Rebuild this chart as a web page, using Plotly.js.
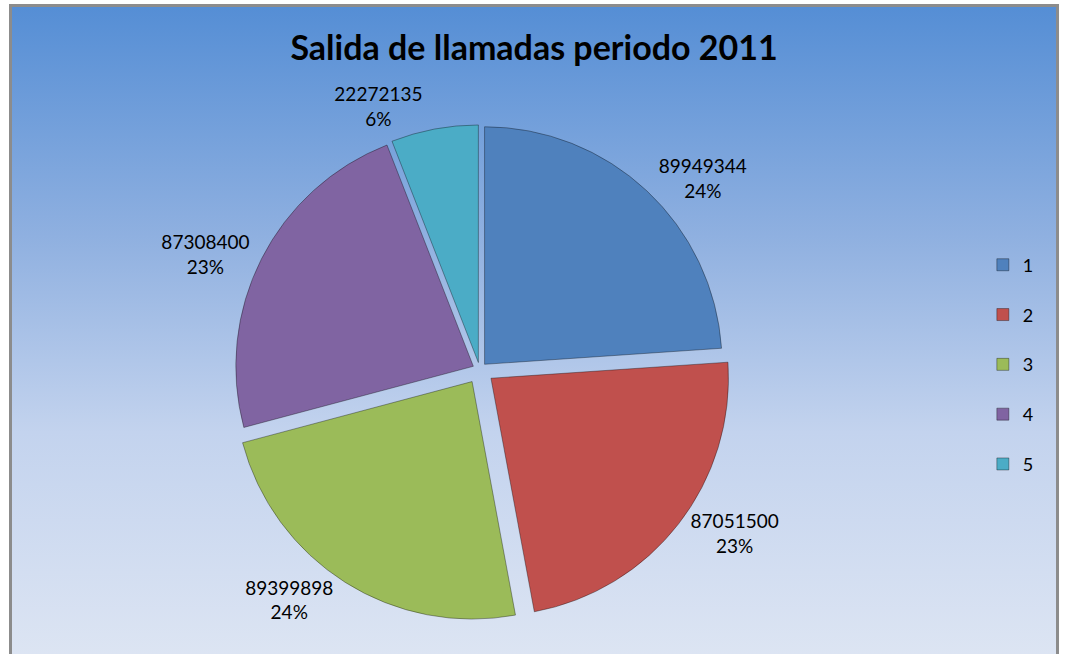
<!DOCTYPE html>
<html>
<head>
<meta charset="utf-8">
<script src="https://cdn.plot.ly/plotly-3.0.1.min.js"></script>
<style>
  html, body { margin: 0; padding: 0; width: 1066px; height: 654px; overflow: hidden; background: #ffffff; }
  #frame {
    position: absolute; left: 9px; top: 4px; width: 1050px; height: 660px;
    border: 3px solid #8c8c8c; box-sizing: border-box;
    background: linear-gradient(to bottom, #558ed5 0%, #8fb0e0 35%, #c3d3ee 65%, #dde5f3 100%);
  }
  #chart { position: absolute; left: 0; top: 0; width: 1066px; height: 654px; }
</style>
</head>
<body>
<div id="frame"></div>
<div id="chart"></div>
<script>
const categories = ["1", "2", "3", "4", "5"];
const values = [89949344, 87051500, 89399898, 87308400, 22272135];
const colors = ["#4f81bd", "#c0504d", "#9bbb59", "#8064a2", "#4bacc6"];
const chartTitle = "Salida de llamadas periodo 2011";

const trace = {
  type: "pie",
  labels: categories.map(c => c + "<br> "),
  values: values,
  sort: false,
  direction: "clockwise",
  rotation: 0,
  pull: [0.03, 0.06, 0.06, 0.03, 0.03],
  marker: { colors: colors, line: { color: "rgba(0,0,0,0.35)", width: 1 } },
  textposition: "outside",
  texttemplate: "%{value:.0f}<br>%{percent:.0%}",
  textfont: { family: "Lato, 'Liberation Sans', sans-serif", size: 19, color: "#000000" },
  domain: { x: [0.1, 0.8], y: [0.05, 0.82] },
  hoverinfo: "value+percent"
};

const layout = {
  width: 1066,
  height: 654,
  paper_bgcolor: "rgba(0,0,0,0)",
  plot_bgcolor: "rgba(0,0,0,0)",
  margin: { l: 0, r: 0, t: 0, b: 0 },
  title: {
    text: "<b>" + chartTitle + "</b>",
    font: { family: "Lato, 'Liberation Sans', sans-serif", size: 34, color: "#000000" },
    x: 0.501, xanchor: "center",
    y: 0.927, yanchor: "middle"
  },
  showlegend: true,
  legend: {
    x: 0.922, xanchor: "left",
    y: 0.425, yanchor: "middle",
    valign: "top",
    bgcolor: "rgba(0,0,0,0)",
    font: { family: "Lato, 'Liberation Sans', sans-serif", size: 18, color: "#000000" },
    itemwidth: 30,
    tracegroupgap: 0
  },
  font: { family: "Lato, 'Liberation Sans', sans-serif" }
};

Plotly.newPlot("chart", [trace], layout, { displayModeBar: false, staticPlot: true });
</script>
</body>
</html>
